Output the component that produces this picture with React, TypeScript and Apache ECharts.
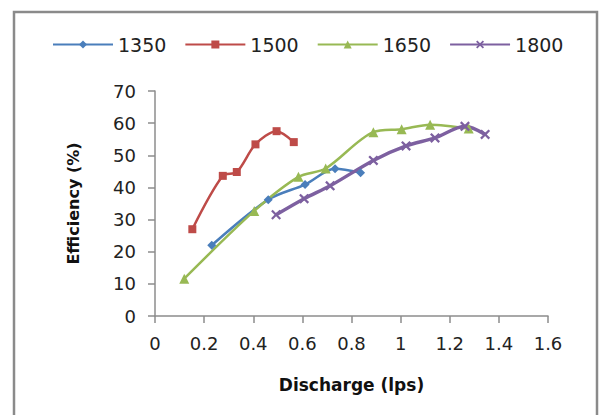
import React, { useEffect, useRef } from "react";
import * as echarts from "echarts";

const seriesNames = ["1350", "1500", "1650", "1800"];
const q1350 = [0.231, 0.461, 0.611, 0.733, 0.837];
const e1350 = [22.0, 36.2, 40.9, 45.8, 44.6];
const q1500 = [0.152, 0.276, 0.333, 0.409, 0.495, 0.565];
const e1500 = [27.0, 43.6, 44.8, 53.4, 57.5, 54.1];
const q1650 = [0.119, 0.404, 0.584, 0.695, 0.889, 1.004, 1.12, 1.277];
const e1650 = [11.6, 32.7, 43.3, 45.9, 57.2, 58.1, 59.5, 58.3];
const q1800 = [0.493, 0.607, 0.713, 0.889, 1.022, 1.14, 1.262, 1.344];
const e1800 = [31.5, 36.5, 40.5, 48.4, 52.9, 55.4, 59.0, 56.5];

const xTitle = "Discharge (lps)";
const yTitle = "Efficiency (%)";

const colors = ["#4A7EBB", "#BE4B48", "#98B954", "#7D60A0"];
const symbols = [
  "diamond",
  "rect",
  "triangle",
  "path://M0,1.6L1.6,0L5,3.4L8.4,0L10,1.6L6.6,5L10,8.4L8.4,10L5,6.6L1.6,10L0,8.4L3.4,5Z",
];
const symbolSizes = [9, 8, 10, 10];
const lineWidths = [2.5, 2.5, 2.5, 3.5];

const pairs = (xs: number[], ys: number[]) => xs.map((x, i) => [x, ys[i]]);

export default function App() {
  const ref = useRef<HTMLDivElement>(null);
  useEffect(() => {
    document.body.style.margin = "0";
    const chart = echarts.init(ref.current!, undefined, { renderer: "svg" });
    const data = [
      pairs(q1350, e1350),
      pairs(q1500, e1500),
      pairs(q1650, e1650),
      pairs(q1800, e1800),
    ];
    const font = "DejaVu Sans";
    chart.setOption({
      animation: false,
      backgroundColor: "#ffffff",
      textStyle: { fontFamily: font },
      legend: {
        left: 52,
        top: 35,
        padding: 0,
        itemWidth: 60,
        itemHeight: 10,
        itemGap: 18,
        textStyle: { fontSize: 19, color: "#222", fontFamily: font },
        data: seriesNames,
      },
      grid: { left: 155, right: 53, top: 91, bottom: 99, containLabel: false },
      xAxis: {
        type: "value",
        min: 0,
        max: 1.6,
        interval: 0.2,
        name: xTitle,
        nameLocation: "middle",
        nameGap: 60,
        nameTextStyle: { fontSize: 17, fontWeight: "bold", color: "#111", fontFamily: font },
        axisLine: { show: true, lineStyle: { color: "#8c8c8c", width: 1.5 } },
        axisTick: { show: true, length: 7, lineStyle: { color: "#8c8c8c", width: 1.5 } },
        axisLabel: { fontSize: 18, color: "#222", margin: 18, fontFamily: font },
        splitLine: { show: false },
      },
      yAxis: {
        type: "value",
        min: 0,
        max: 70,
        interval: 10,
        name: yTitle,
        nameLocation: "middle",
        nameGap: 74,
        nameRotate: 90,
        nameTextStyle: { fontSize: 16, fontWeight: "bold", color: "#111", fontFamily: font },
        axisLine: { show: true, lineStyle: { color: "#8c8c8c", width: 1.5 } },
        axisTick: { show: true, length: 7, lineStyle: { color: "#8c8c8c", width: 1.5 } },
        axisLabel: { fontSize: 18, color: "#222", margin: 19, fontFamily: font },
        splitLine: { show: false },
      },
      graphic: [
        {
          type: "rect",
          shape: { x: 14, y: 12, width: 583, height: 420 },
          style: { fill: "none", stroke: "#8a8a8a", lineWidth: 2.5 },
          silent: true,
        },
      ],
      series: seriesNames.map((name, i) => ({
        name,
        type: "line",
        data: data[i],
        smooth: 0.3,
        symbol: symbols[i],
        symbolSize: symbolSizes[i],
        showSymbol: true,
        color: colors[i],
        lineStyle: { color: colors[i], width: lineWidths[i] },
        itemStyle: { color: colors[i] },
      })),
    });
    return () => chart.dispose();
  }, []);
  return (
    <div
      ref={ref}
      style={{ position: "absolute", left: 0, top: 0, width: 601, height: 415 }}
    />
  );
}
